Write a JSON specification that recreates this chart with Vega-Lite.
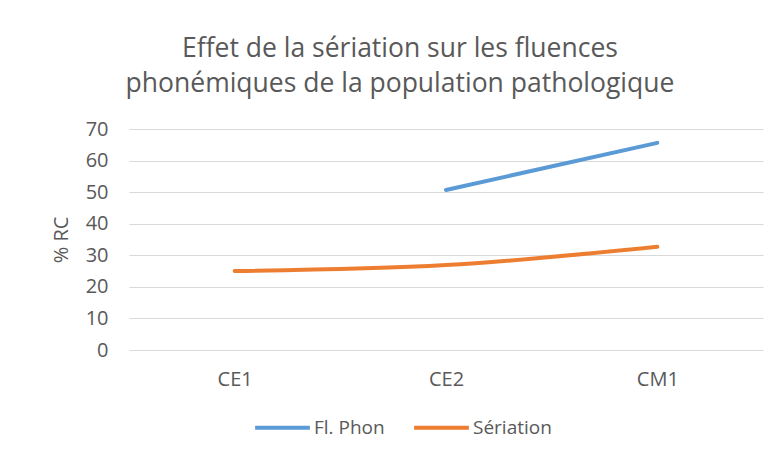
{
  "$schema": "https://vega.github.io/schema/vega-lite/v6.json",
  "autosize": "none",
  "width": 634,
  "height": 221,
  "padding": {"left": 129, "top": 129, "right": 15, "bottom": 106},
  "background": "white",
  "title": {
    "text": ["Effet de la sériation sur les fluences", "phonémiques de la population pathologique"],
    "font": "Open Sans",
    "fontSize": 26.5,
    "fontWeight": "normal",
    "color": "#595959",
    "lineHeight": 35,
    "anchor": "middle",
    "frame": "group",
    "dx": -46,
    "offset": 22
  },
  "data": {
    "values": [
      {"niveau": "CE2", "serie": "Fl. Phon", "valeur": 50.7},
      {"niveau": "CM1", "serie": "Fl. Phon", "valeur": 65.6},
      {"niveau": "CE1", "serie": "Sériation", "valeur": 25.0},
      {"niveau": "CE2", "serie": "Sériation", "valeur": 26.9},
      {"niveau": "CM1", "serie": "Sériation", "valeur": 32.7}
    ]
  },
  "mark": {"type": "line", "strokeWidth": 4, "strokeCap": "round", "interpolate": "monotone"},
  "encoding": {
    "x": {
      "field": "niveau",
      "type": "nominal",
      "sort": ["CE1", "CE2", "CM1"],
      "scale": {"type": "point", "padding": 0.5},
      "axis": {
        "title": null,
        "labelAngle": 0,
        "domain": false,
        "ticks": false,
        "grid": false,
        "labelFont": "Open Sans",
        "labelFontSize": 20,
        "labelColor": "#595959",
        "labelPadding": 19
      }
    },
    "y": {
      "field": "valeur",
      "type": "quantitative",
      "scale": {"domain": [0, 70], "nice": false},
      "axis": {
        "title": "% RC",
        "titleFont": "Open Sans",
        "titleFontSize": 20,
        "titleFontWeight": "normal",
        "titleColor": "#595959",
        "titlePadding": 14,
        "values": [0, 10, 20, 30, 40, 50, 60, 70],
        "domain": false,
        "ticks": false,
        "labelFont": "Open Sans",
        "labelFontSize": 20,
        "labelColor": "#595959",
        "labelPadding": 21,
        "gridColor": "#d9d9d9",
        "gridWidth": 1
      }
    },
    "color": {
      "field": "serie",
      "type": "nominal",
      "scale": {"domain": ["Fl. Phon", "Sériation"], "range": ["#5B9BD5", "#ED7D31"]},
      "legend": {
        "title": null,
        "orient": "none",
        "direction": "horizontal",
        "legendX": 124,
        "legendY": 269,
        "symbolType": "stroke",
        "symbolSize": 3000,
        "symbolStrokeWidth": 4,
        "labelFont": "Open Sans",
        "labelFontSize": 19,
        "labelColor": "#595959",
        "labelOffset": 2,
        "columnPadding": 21
      }
    }
  },
  "config": {"view": {"stroke": null}}
}
